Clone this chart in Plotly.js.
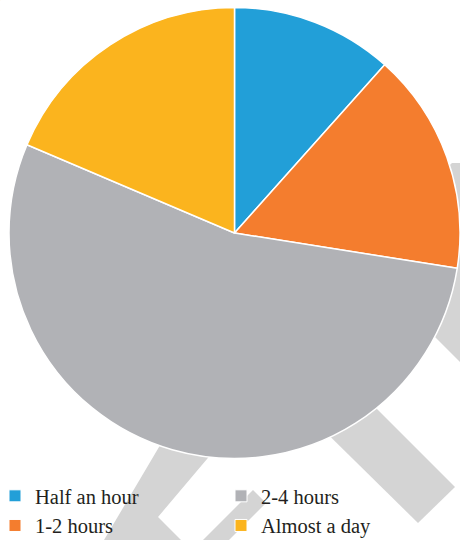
<!DOCTYPE html>
<html><head><meta charset="utf-8">
<script src="https://cdn.plot.ly/plotly-3.0.1.min.js"></script>
<style>html,body{margin:0;padding:0;background:#fff}#chart{width:460px;height:540px}</style>
</head><body><div id="chart"></div>
<script>
// data
const categories = ["Half an hour", "1-2 hours", "2-4 hours", "Almost a day"];
const shares = [11.6, 15.9, 53.9, 18.6];
const sliceColors = ["#229fd8", "#f47d2e", "#b1b2b6", "#fbb41e"];
const legendOrder = ["Half an hour", "2-4 hours", "1-2 hours", "Almost a day"];

const W = 460, H = 540, PB = 64;       // plot area: full width, top 476 px
const PH = H - PB;
const px = x => x / W, py = y => 1 - y / PH;

// decorative watermark behind the pie (pixel polygons)
const watermark = [
  [[445,170],[452,163],[470,163],[470,372],[437,339],[400,302]],
  [[330,362],[455,487],[418,523],[290,397]],
  [[175,420],[240,420],[158,517],[181,540],[104,540]],
  [[253,490],[266,503],[229,540],[203,540]]
];
const shapes = watermark.map(poly => ({
  type: 'path', xref: 'paper', yref: 'paper', layer: 'below',
  path: poly.map((p, i) => (i ? 'L' : 'M') + px(p[0]).toFixed(4) + ',' + py(p[1]).toFixed(4)).join(' ') + ' Z',
  fillcolor: '#d4d4d4', line: {width: 0}
}));

const legendColors = legendOrder.map(l => sliceColors[categories.indexOf(l)]);

const traces = [
  { // legend ordering helper (not visible)
    type: 'pie', labels: legendOrder, values: legendOrder.map(() => 1),
    marker: {colors: legendColors, line: {color: '#ffffff', width: 1}},
    domain: {x: [0, 0.0005], y: [0.9995, 1]},
    textinfo: 'none', hoverinfo: 'skip', sort: false, showlegend: true
  },
  {
    type: 'pie', labels: categories, values: shares,
    marker: {colors: sliceColors, line: {color: '#ffffff', width: 1.5}},
    sort: false, direction: 'clockwise', rotation: 0,
    textinfo: 'none', hoverinfo: 'label+percent',
    domain: {x: [px(9), 1], y: [py(459), py(7)]},
    showlegend: true
  }
];

const layout = {
  width: W, height: H,
  margin: {l: 0, r: 0, t: 0, b: PB, autoexpand: false},
  paper_bgcolor: '#ffffff',
  shapes: shapes,
  showlegend: true,
  legend: {
    orientation: 'h', x: -5 / W, xanchor: 'left', y: 0, yanchor: 'top',
    entrywidth: 181, entrywidthmode: 'pixels',
    bgcolor: 'rgba(0,0,0,0)',
    font: {family: '"Liberation Serif", "Times New Roman", serif', size: 20.5, color: '#231f20'}
  }
};

Plotly.newPlot('chart', traces, layout, {displayModeBar: false, staticPlot: true});
</script></body></html>
